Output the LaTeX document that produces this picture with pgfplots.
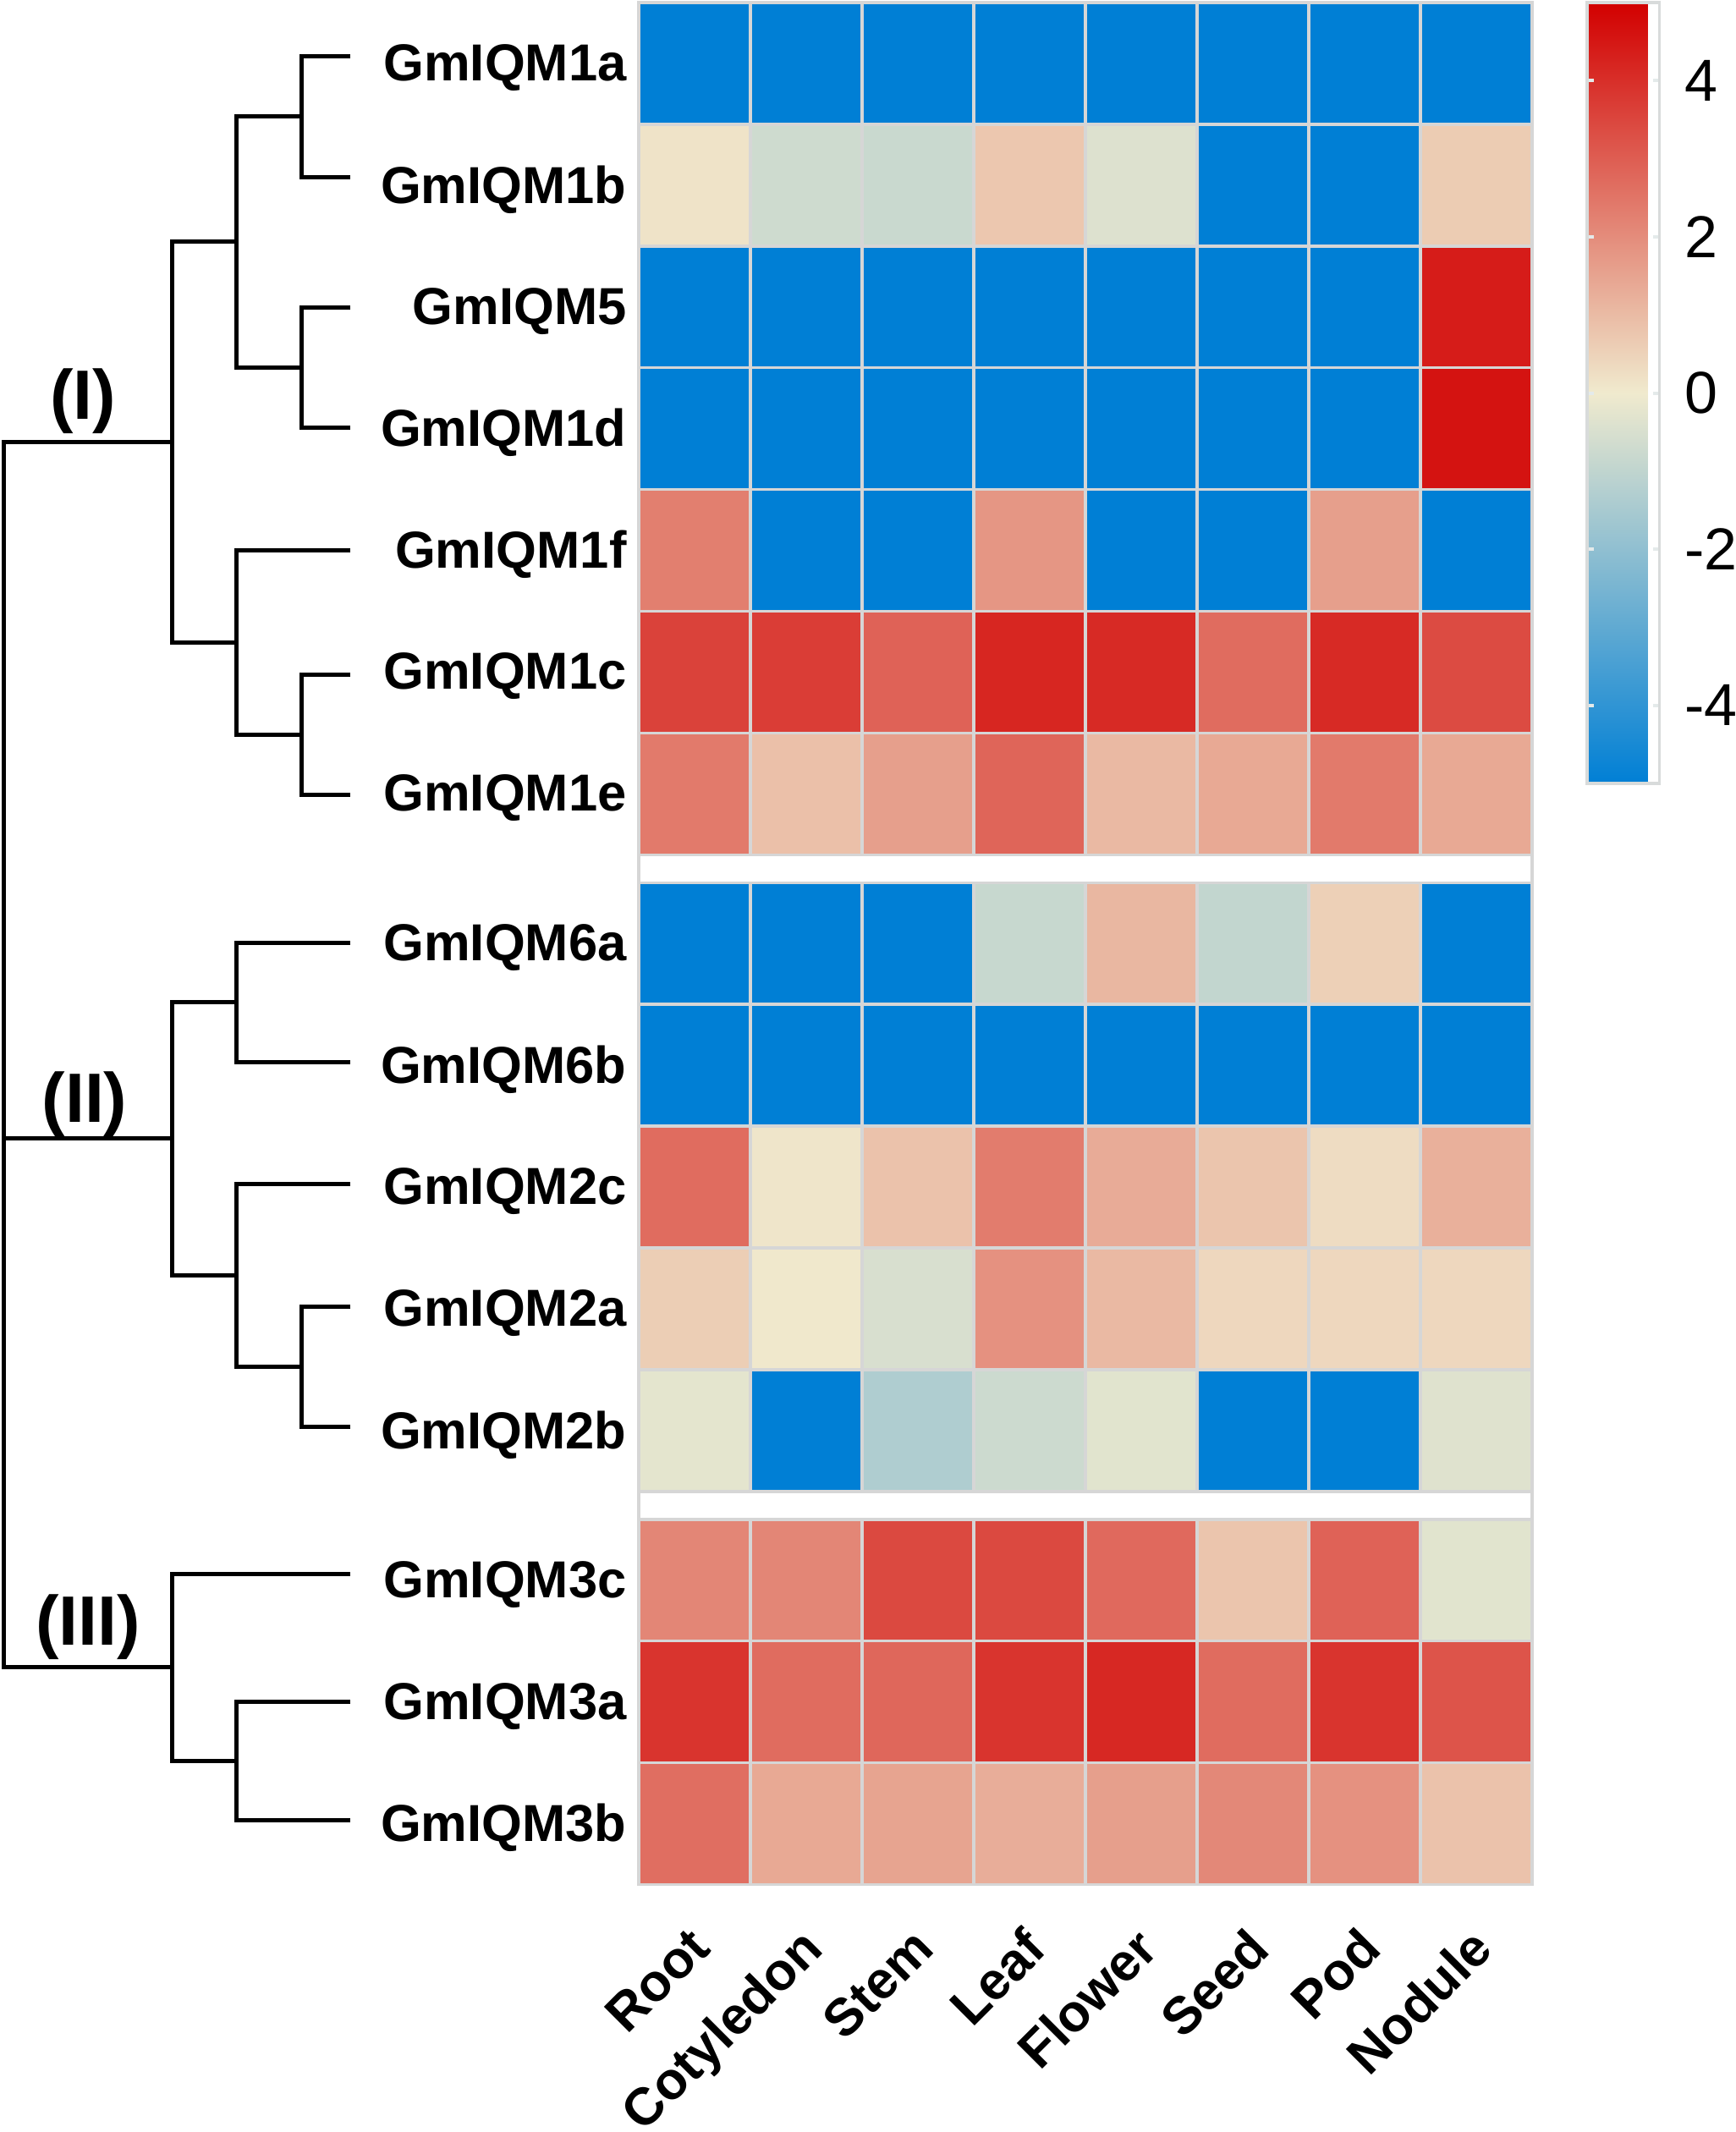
\documentclass[border=0pt]{standalone}
\usepackage{pgfplots}
\pgfplotsset{compat=1.18}
\usepackage{pgfplotstable}
\usepackage{fontspec}
\setmainfont{Liberation Sans}
\definecolor{cellgray}{RGB}{214,214,214}
\definecolor{cbgray}{RGB}{216,219,219}
\definecolor{cbtick}{RGB}{228,234,234}

\pgfplotstableread{
x y c
0 0 -5
1 0 -5
2 0 -5
3 0 -5
4 0 -5
5 0 -5
6 0 -5
7 0 -5
0 -1 0.15
1 -1 -0.7
2 -1 -0.8
3 -1 0.75
4 -1 -0.4
5 -1 -5
6 -1 -5
7 -1 0.65
0 -2 -5
1 -2 -5
2 -2 -5
3 -2 -5
4 -2 -5
5 -2 -5
6 -2 -5
7 -2 4.4
0 -3 -5
1 -3 -5
2 -3 -5
3 -3 -5
4 -3 -5
5 -3 -5
6 -3 -5
7 -3 4.6
0 -4 2.3
1 -4 -5
2 -4 -5
3 -4 1.8
4 -4 -5
5 -4 -5
6 -4 1.6
7 -4 -5
0 -5 3.6
1 -5 3.7
2 -5 2.9
3 -5 4.2
4 -5 4.1
5 -5 2.7
6 -5 4.1
7 -5 3.4
0 -6 2.4
1 -6 0.9
2 -6 1.6
3 -6 2.85
4 -6 1.05
5 -6 1.4
6 -6 2.4
7 -6 1.4
}\groupone

\pgfplotstableread{
x y c
0 -7.2293 -5
1 -7.2293 -5
2 -7.2293 -5
3 -7.2293 -0.85
4 -7.2293 1.1
5 -7.2293 -0.95
6 -7.2293 0.55
7 -7.2293 -5
0 -8.2293 -5
1 -8.2293 -5
2 -8.2293 -5
3 -8.2293 -5
4 -8.2293 -5
5 -8.2293 -5
6 -8.2293 -5
7 -8.2293 -5
0 -9.2293 2.7
1 -9.2293 0.1
2 -9.2293 0.85
3 -9.2293 2.35
4 -9.2293 1.35
5 -9.2293 0.8
6 -9.2293 0.3
7 -9.2293 1.25
0 -10.2293 0.6
1 -10.2293 0.05
2 -10.2293 -0.5
3 -10.2293 1.9
4 -10.2293 1.05
5 -10.2293 0.4
6 -10.2293 0.4
7 -10.2293 0.4
0 -11.2293 -0.25
1 -11.2293 -5
2 -11.2293 -1.35
3 -11.2293 -0.75
4 -11.2293 -0.3
5 -11.2293 -5
6 -11.2293 -5
7 -11.2293 -0.35
}\grouptwo

\pgfplotstableread{
x y c
0 -12.4586 2.15
1 -12.4586 2.15
2 -12.4586 3.45
3 -12.4586 3.45
4 -12.4586 2.75
5 -12.4586 0.8
6 -12.4586 2.9
7 -12.4586 -0.3
0 -13.4586 3.9
1 -13.4586 2.7
2 -13.4586 2.8
3 -13.4586 3.9
4 -13.4586 4.15
5 -13.4586 2.7
6 -13.4586 3.9
7 -13.4586 3.2
0 -14.4586 2.65
1 -14.4586 1.4
2 -14.4586 1.5
3 -14.4586 1.3
4 -14.4586 1.6
5 -14.4586 2.1
6 -14.4586 1.9
7 -14.4586 0.85
}\groupthree

\pgfplotsset{gl/.style={draw=cellgray, line width=0.7pt, forget plot, mark=none}}

\begin{document}
\begin{tikzpicture}
\useasboundingbox (0,0) rectangle (410.2pt,-504pt);

% dendrogram (coordinates in image pixels)
\begin{axis}[
  at={(0pt,0pt)}, anchor=north west,
  scale only axis, width=410.2pt, height=504pt,
  xmin=0, xmax=2051, ymin=-2520, ymax=0,
  hide axis, clip=false,
]
\pgfplotsset{dl/.style={black, line width=1pt, mark=none, forget plot}}
% group I
\addplot[dl] coordinates {(414,-66.7)(356,-66.7)(356,-209)(414,-209)};
\addplot[dl] coordinates {(414,-363)(356,-363)(356,-505)(414,-505)};
\addplot[dl] coordinates {(356,-137.85)(279.7,-137.85)(279.7,-434)(356,-434)};
\addplot[dl] coordinates {(414,-797)(356,-797)(356,-939)(414,-939)};
\addplot[dl] coordinates {(414,-650)(279.7,-650)(279.7,-868)(356,-868)};
\addplot[dl] coordinates {(279.7,-285.9)(203.6,-285.9)(203.6,-759)(279.7,-759)};
% group II
\addplot[dl] coordinates {(414,-1114)(279.7,-1114)(279.7,-1255.5)(414,-1255.5)};
\addplot[dl] coordinates {(414,-1544.5)(356,-1544.5)(356,-1686)(414,-1686)};
\addplot[dl] coordinates {(414,-1399)(279.7,-1399)(279.7,-1615.25)(356,-1615.25)};
\addplot[dl] coordinates {(279.7,-1184.75)(203.6,-1184.75)(203.6,-1507.1)(279.7,-1507.1)};
% group III
\addplot[dl] coordinates {(414,-2011)(279.7,-2011)(279.7,-2151)(414,-2151)};
\addplot[dl] coordinates {(414,-1860)(203.6,-1860)(203.6,-2081)(279.7,-2081)};
% root
\addplot[dl] coordinates {(203.6,-522.45)(4.8,-522.45)(4.8,-1970.5)(203.6,-1970.5)};
\addplot[dl] coordinates {(4.8,-1345.9)(203.6,-1345.9)};
\node[anchor=base, font=\bfseries\fontsize{16.5}{18}\selectfont] at (axis cs:98,-495) {(I)};
\node[anchor=base, font=\bfseries\fontsize{16.5}{18}\selectfont] at (axis cs:100,-1326) {(II)};
\node[anchor=base, font=\bfseries\fontsize{16.5}{18}\selectfont] at (axis cs:104,-1944) {(III)};
\end{axis}

% heatmap
\begin{axis}[
  at={(151pt,-0.6pt)}, anchor=north west,
  scale only axis, width=211.2pt, height=444.9pt,
  xmin=-0.5, xmax=7.5, ymin=-14.9586, ymax=0.5,
  axis on top,
  axis line style={draw=cellgray, line width=0.7pt},
  major tick length=0pt,
  tick style={draw=none},
  xtick={0,1,2,3,4,5,6,7},
  xticklabels={Root,Cotyledon,Stem,Leaf,Flower,Seed,Pod,Nodule},
  xticklabel style={xshift=-1.9pt, yshift=-9.3pt, rotate=45, anchor=north east, inner sep=0pt, font=\bfseries\fontsize{12.4}{14}\selectfont},
  ytick={0,-1,-2,-3,-4,-5,-6,-7.2293,-8.2293,-9.2293,-10.2293,-11.2293,-12.4586,-13.4586,-14.4586},
  yticklabels={GmIQM1a,GmIQM1b,GmIQM5,GmIQM1d,GmIQM1f,GmIQM1c,GmIQM1e,GmIQM6a,GmIQM6b,GmIQM2c,GmIQM2a,GmIQM2b,GmIQM3c,GmIQM3a,GmIQM3b},
  yticklabel style={anchor=east, inner sep=0pt, xshift=-2.7pt, yshift=-1pt, font=\bfseries\fontsize{12.3}{14}\selectfont},
  colormap={hm}{rgb255=(0,127,213) rgb255=(240,234,206) rgb255=(210,0,0)},
  point meta min=-5, point meta max=5,
  colorbar right,
  colorbar style={
    at={(parent axis.north east)}, anchor=north west,
    xshift=4.5pt,
    scale only axis, width=17.1pt, height=184.6pt,
    ytick={-4,-2,0,2,4},
    ytick pos=both,
    yticklabel pos=right,
    tick align=inside,
    major tick length=1.5pt,
    ytick style={draw=cbtick, line width=0.8pt},
    yticklabel style={anchor=west, inner sep=0pt, xshift=5.7pt, font=\fontsize{14}{16}\selectfont},
    axis line style={draw=cbgray, line width=0.7pt},
    /pgf/number format/assume math mode=true,
  },
]
\addplot[matrix plot*, mesh/cols=8, point meta=explicit] table[x=x, y=y, meta=c] {\groupone};
\addplot[matrix plot*, mesh/cols=8, point meta=explicit] table[x=x, y=y, meta=c] {\grouptwo};
\addplot[matrix plot*, mesh/cols=8, point meta=explicit] table[x=x, y=y, meta=c] {\groupthree};
\pgfplotsinvokeforeach{0.5,1.5,2.5,3.5,4.5,5.5,6.5}{
  \addplot[gl] coordinates {(#1,0.5)(#1,-6.5)};
  \addplot[gl] coordinates {(#1,-6.7293)(#1,-11.7293)};
  \addplot[gl] coordinates {(#1,-11.9586)(#1,-14.9586)};
}
\pgfplotsinvokeforeach{0.5,-0.5,-1.5,-2.5,-3.5,-4.5,-5.5,-6.5,-6.7293,-7.7293,-8.7293,-9.7293,-10.7293,-11.7293,-11.9586,-12.9586,-13.9586,-14.9586}{
  \addplot[gl] coordinates {(-0.5,#1)(7.5,#1)};
}
\end{axis}
\end{tikzpicture}
\end{document}
